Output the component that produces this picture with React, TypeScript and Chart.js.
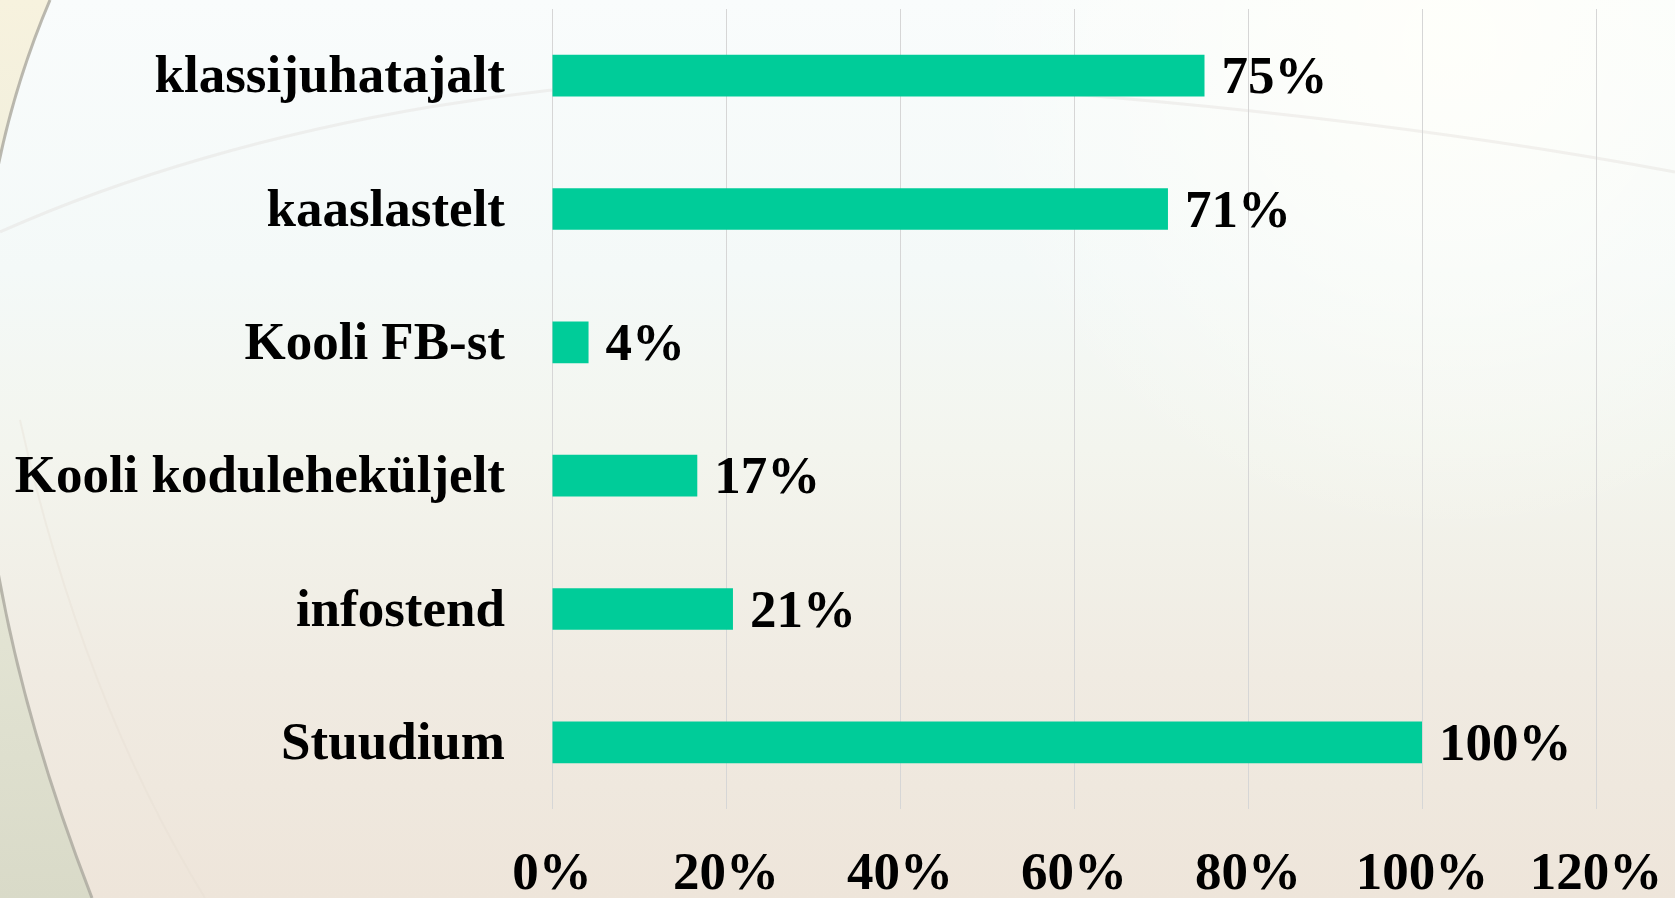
import { useEffect, useRef } from 'react';
import { Chart, registerables } from 'chart.js';

Chart.register(...registerables);

const categories = [
  'klassijuhatajalt',
  'kaaslastelt',
  'Kooli FB-st',
  'Kooli koduleheküljelt',
  'infostend',
  'Stuudium',
];
// bar lengths; labels show them rounded
const shares = [75, 70.8, 4.2, 16.7, 20.8, 100];
const axisMax = 120;
const axisStep = 20;

const FONT_FAMILY = '"Liberation Serif", "Times New Roman", serif';
const BAR_COLOR = '#00cc99';

const backgroundPlugin = {
  id: 'slideBackground',
  beforeDraw(chart: any) {
    const { ctx, width, height } = chart;
    ctx.save();
    const g = ctx.createLinearGradient(0, 0, 0, height);
    g.addColorStop(0, '#f9fcfc');
    g.addColorStop(0.3, '#f4f9f8');
    g.addColorStop(0.5, '#f3f5ee');
    g.addColorStop(0.75, '#f0ebe2');
    g.addColorStop(1, '#eee5da');
    ctx.fillStyle = g;
    ctx.fillRect(0, 0, width, height);

    const rg = ctx.createRadialGradient(1450, 40, 10, 1450, 40, 500);
    rg.addColorStop(0, 'rgba(255,255,250,0.9)');
    rg.addColorStop(1, 'rgba(255,255,250,0)');
    ctx.fillStyle = rg;
    ctx.fillRect(0, 0, width, height);

    // left region outside the big arc
    ctx.beginPath();
    ctx.moveTo(0, 0);
    ctx.lineTo(50, 0);
    ctx.bezierCurveTo(-48, 230, -55, 520, 92, 898);
    ctx.lineTo(0, 898);
    ctx.closePath();
    const lg = ctx.createLinearGradient(0, 0, 0, height);
    lg.addColorStop(0, '#f7f2de');
    lg.addColorStop(0.5, '#e9eadb');
    lg.addColorStop(1, '#d9dac8');
    ctx.fillStyle = lg;
    ctx.fill();

    ctx.beginPath();
    ctx.moveTo(50, 0);
    ctx.bezierCurveTo(-48, 230, -55, 520, 92, 898);
    ctx.strokeStyle = 'rgba(170,168,158,0.8)';
    ctx.lineWidth = 3;
    ctx.stroke();

    // faint inner arc
    ctx.beginPath();
    ctx.moveTo(20, 420);
    ctx.bezierCurveTo(60, 600, 120, 760, 205, 898);
    ctx.strokeStyle = 'rgba(228,222,210,0.35)';
    ctx.lineWidth = 2;
    ctx.stroke();

    // faint sweeping line across the top
    ctx.beginPath();
    ctx.moveTo(0, 232);
    ctx.bezierCurveTo(250, 120, 600, 60, 900, 82);
    ctx.bezierCurveTo(1200, 100, 1450, 130, 1675, 172);
    ctx.strokeStyle = 'rgba(215,210,205,0.28)';
    ctx.lineWidth = 3;
    ctx.stroke();
    ctx.restore();
  },
};

const valueLabelPlugin = {
  id: 'valueLabels',
  afterDatasetsDraw(chart: any) {
    const { ctx } = chart;
    const meta = chart.getDatasetMeta(0);
    ctx.save();
    ctx.font = `bold 53px ${FONT_FAMILY}`;
    ctx.fillStyle = '#000';
    ctx.textAlign = 'left';
    ctx.textBaseline = 'middle';
    meta.data.forEach((bar: any, i: number) => {
      ctx.fillText(`${Math.round(shares[i])}%`, bar.x + 17, bar.y + 4);
    });
    ctx.restore();
  },
};

export default function App() {
  const canvasRef = useRef<HTMLCanvasElement | null>(null);

  useEffect(() => {
    if (!canvasRef.current) return;
    const chart = new Chart(canvasRef.current, {
      type: 'bar',
      data: {
        labels: categories,
        datasets: [
          {
            data: shares,
            backgroundColor: BAR_COLOR,
            borderWidth: 0,
            barPercentage: 1,
            categoryPercentage: 0.3125,
          },
        ],
      },
      options: {
        indexAxis: 'y',
        animation: false,
        responsive: false,
        devicePixelRatio: 1,
        layout: { padding: { top: 9, right: 79, left: 0, bottom: 0 } },
        plugins: {
          legend: { display: false },
          tooltip: { enabled: false },
        },
        scales: {
          x: {
            min: 0,
            max: axisMax,
            ticks: {
              stepSize: axisStep,
              callback: (v: any) => `${v}%`,
              font: { family: FONT_FAMILY, size: 53, weight: 'bold' },
              color: '#000',
              padding: 35,
              maxRotation: 0,
              autoSkip: false,
            },
            grid: { color: '#d6d6d6', lineWidth: 1, drawTicks: false },
            border: { display: false },
            afterFit: (s: any) => {
              s.height = 89;
              s.paddingLeft = 0;
              s.paddingRight = 0;
            },
          },
          y: {
            ticks: {
              font: { family: FONT_FAMILY, size: 53, weight: 'bold' },
              color: '#000',
              padding: 47,
              labelOffset: 3,
              autoSkip: false,
            },
            grid: { display: false, drawTicks: false },
            border: { display: false },
            afterFit: (s: any) => {
              s.width = 552;
              s.paddingTop = 0;
              s.paddingBottom = 0;
            },
          },
        },
      },
      plugins: [backgroundPlugin, valueLabelPlugin],
    } as any);
    return () => chart.destroy();
  }, []);

  return (
    <div style={{ position: 'fixed', left: 0, top: 0, width: 1675, height: 898 }}>
      <canvas ref={canvasRef} width={1675} height={898} style={{ display: 'block' }} />
    </div>
  );
}
